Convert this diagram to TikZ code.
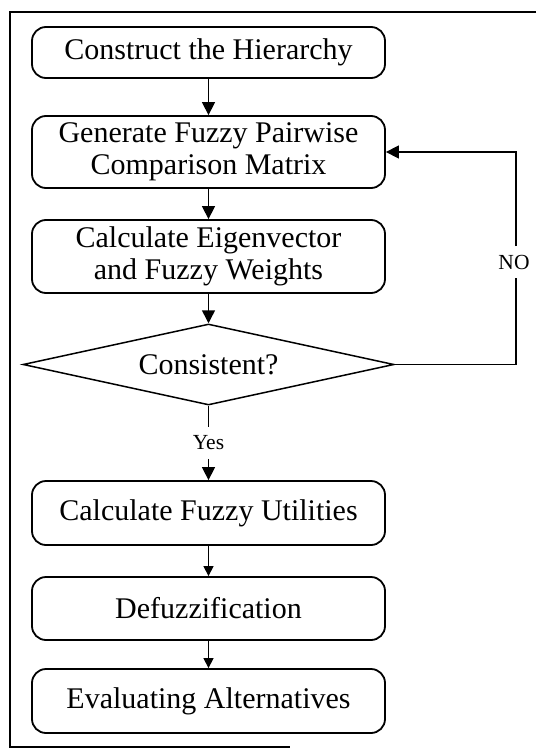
\documentclass[tikz,border=0pt]{standalone}
\usepackage{fontspec}
\setmainfont{Liberation Serif}
\usetikzlibrary{shapes.geometric,arrows.meta}
\begin{document}
\begin{tikzpicture}[x=1pt,y=-1pt,
  stepbox/.style={draw, line width=1.8pt, rounded corners=14pt,
    minimum width=353pt, inner sep=0pt, align=center,
    font=\fontsize{30}{31.5}\selectfont},
  decision/.style={diamond, draw, line width=1.5pt, aspect=4.58,
    minimum width=371pt, minimum height=81pt, inner sep=0pt,
    font=\fontsize{30}{31.5}\selectfont},
  flow/.style={line width=1.5pt, -{Triangle[length=13pt,width=13pt]}},
  smallflow/.style={line width=1.2pt, -{Triangle[length=10pt,width=10pt]}},
  plain/.style={line width=1.5pt},
  tag/.style={inner sep=8.5pt, font=\fontsize{21.5}{23}\selectfont}]
\useasboundingbox (0,0) rectangle (536,749);

% outer frame (open on the right)
\draw[line width=1.5pt] (536,12) -- (10,12) -- (10,747) -- (290,747);

% process steps
\node[stepbox, minimum height=51pt] (hier) at (208.5,52.5) {Construct the Hierarchy};
\node[stepbox, minimum height=72pt] (pair) at (208.5,152) {Generate Fuzzy Pairwise\\Comparison Matrix};
\node[stepbox, minimum height=73pt] (eig) at (208.5,256.5) {Calculate Eigenvector\\and Fuzzy Weights};
\node[decision] (cons) at (208.5,364.5) {Consistent?};
\node[stepbox, minimum height=64pt] (util) at (208.5,513) {Calculate Fuzzy Utilities};
\node[stepbox, minimum height=63pt] (defz) at (208.5,608.5) {Defuzzification};
\node[stepbox, minimum height=64pt] (alt) at (208.5,701) {Evaluating Alternatives};

% labels on the branches
\node[tag] (yes) at (208.5,443) {Yes};
\node[tag] (no) at (514,262) {NO};
\coordinate (turn) at (516,364.5);

% main flow
\draw[flow] (hier) -- (pair);
\draw[flow] (pair) -- (eig);
\draw[flow] (eig) -- (cons);
\draw[plain] (cons.south) -- (yes.north);
\draw[flow] (yes.south) -- (util.north);
\draw[smallflow] (util) -- (defz);
\draw[smallflow] (defz) -- (alt);

% feedback loop when inconsistent
\draw[plain] (cons.east) -- (turn) -- (turn |- no.south);
\draw[flow] (turn |- no.north) |- (pair.east);
\end{tikzpicture}
\end{document}
